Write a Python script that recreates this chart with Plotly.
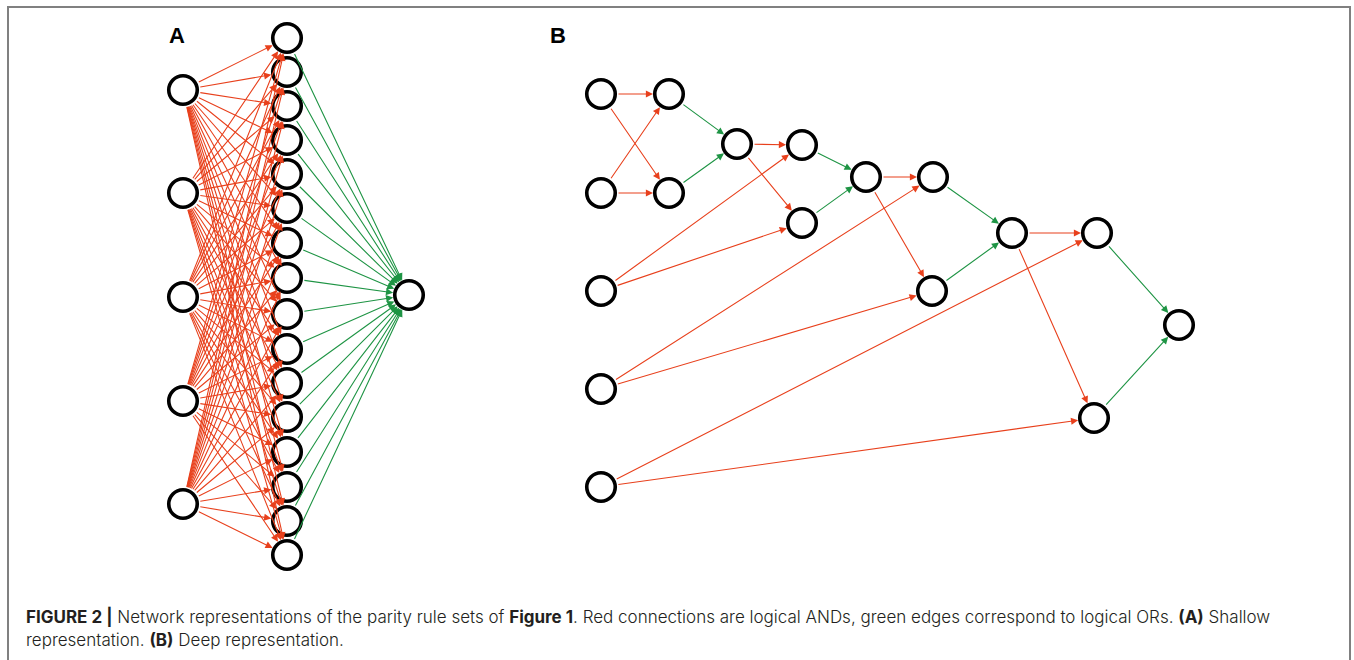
import plotly.graph_objects as go

# ---------------- data ----------------
# Panel A (shallow network)
A_input_x = [183, 183, 183, 183, 183]
A_input_y = [90, 193, 297, 401, 504]
A_hidden_x = [287] * 16
A_hidden_y = [38, 72, 106, 140, 174, 208, 243, 278, 314, 349, 383, 417, 452, 487, 521, 555]
A_output_x = [409]
A_output_y = [295]

# Panel B (deep network)
B_node_x = [601, 601, 601, 601, 601, 669, 669, 737, 802, 802, 866, 933, 932, 1012, 1097, 1094, 1179]
B_node_y = [94, 193, 291, 389, 487, 94, 193, 144, 145, 223, 177, 177, 291, 233, 233, 418, 325]
B_and_edges = [(0, 5), (0, 6), (1, 5), (1, 6), (7, 8), (7, 9), (2, 8), (2, 9),
               (10, 11), (10, 12), (3, 11), (3, 12), (13, 14), (13, 15), (4, 14), (4, 15)]
B_or_edges = [(5, 7), (6, 7), (8, 10), (9, 10), (11, 13), (12, 13), (14, 16), (15, 16)]

panel_labels = ["A", "B"]
caption_line1 = ("<b>FIGURE 2 |</b> Network representations of the parity rule sets of <b>Figure 1</b>. "
                 "Red connections are logical ANDs, green edges correspond to logical ORs. <b>(A)</b> Shallow")
caption_line2 = "representation. <b>(B)</b> Deep representation."

# ---------------- styles ----------------
RED = "#E8401C"
GREEN = "#1E9444"
R = 16  # node radius in px

W, H = 1354, 660
fig = go.Figure()

annotations = []


def edge(x0, y0, x1, y1, color):
    annotations.append(dict(
        x=x1, y=y1, ax=x0, ay=y0, xref="x", yref="y", axref="x", ayref="y",
        showarrow=True, arrowhead=2, arrowsize=1.3, arrowwidth=1.1, arrowcolor=color,
        standoff=R, startstandoff=R, text=""))


# Panel A edges
for xi, yi in zip(A_input_x, A_input_y):
    for xh, yh in zip(A_hidden_x, A_hidden_y):
        edge(xi, yi, xh, yh, RED)
for xh, yh in zip(A_hidden_x, A_hidden_y):
    edge(xh, yh, A_output_x[0], A_output_y[0], GREEN)

# Panel B edges
for s, t in B_and_edges:
    edge(B_node_x[s], B_node_y[s], B_node_x[t], B_node_y[t], RED)
for s, t in B_or_edges:
    edge(B_node_x[s], B_node_y[s], B_node_x[t], B_node_y[t], GREEN)

# nodes
all_x = A_input_x + A_hidden_x + A_output_x + B_node_x
all_y = A_input_y + A_hidden_y + A_output_y + B_node_y
fig.add_trace(go.Scatter(
    x=all_x, y=all_y, mode="markers", hoverinfo="skip",
    marker=dict(symbol="circle", size=28.5, color="white",
                line=dict(color="black", width=3.6)),
    showlegend=False))

# panel labels
for lab, lx in zip(panel_labels, [177, 558]):
    annotations.append(dict(x=lx, y=35, xref="x", yref="y", text="<b>%s</b>" % lab,
                            showarrow=False, font=dict(family="Liberation Sans, Arial", size=22, color="black")))

# caption
cap_font = dict(family="Inter, Liberation Sans, Arial", size=17, color="#231F20", weight=300)
annotations.append(dict(x=24, y=616, xref="x", yref="y", text=caption_line1, xanchor="left",
                        showarrow=False, font=cap_font))
annotations.append(dict(x=24, y=640, xref="x", yref="y", text=caption_line2, xanchor="left",
                        showarrow=False, font=cap_font))

# frame
shapes = [dict(type="rect", xref="x", yref="y", x0=8, y0=7, x1=1350, y1=670,
               line=dict(color="#808080", width=2), fillcolor="rgba(0,0,0,0)", layer="below")]

fig.update_layout(
    width=W, height=H, margin=dict(l=0, r=0, t=0, b=0),
    paper_bgcolor="white", plot_bgcolor="white",
    xaxis=dict(range=[0, W], visible=False, fixedrange=True),
    yaxis=dict(range=[H, 0], visible=False, fixedrange=True),
    annotations=annotations, shapes=shapes, showlegend=False)

fig.write_html("out.html", config={"displayModeBar": False},
               post_script="document.body.style.margin='0';document.body.style.overflow='hidden';")
